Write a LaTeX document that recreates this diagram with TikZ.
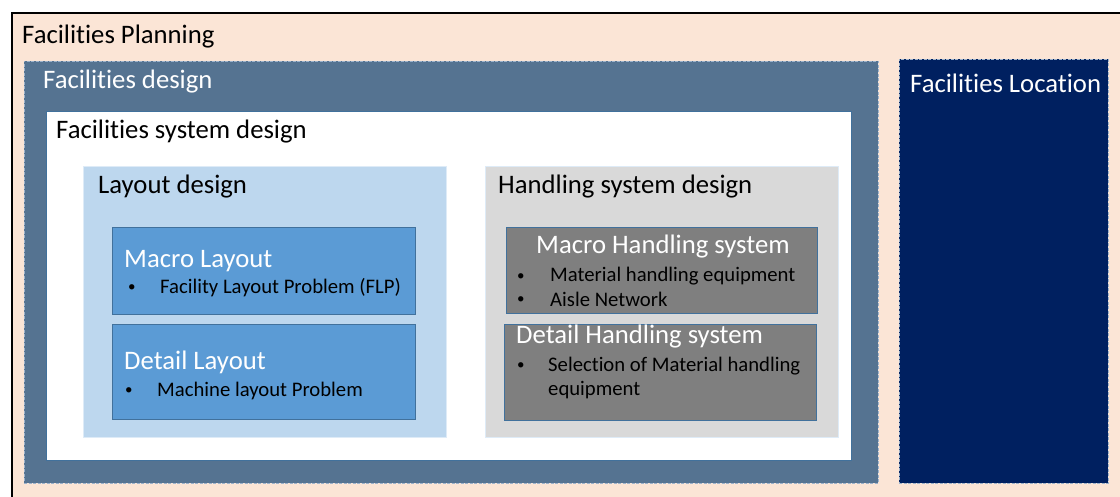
\documentclass[tikz,border=0pt]{standalone}
\usepackage{fontspec}
\setmainfont{Carlito}[Ligatures={NoCommon}]

\definecolor{peach}{HTML}{FBE5D6}
\definecolor{steelblue}{HTML}{557391}
\definecolor{navy}{HTML}{002060}
\definecolor{edgeblue}{HTML}{41719C}
\definecolor{paleblue}{HTML}{BDD7EE}
\definecolor{midblue}{HTML}{5B9BD5}
\definecolor{lightgray}{HTML}{D9D9D9}
\definecolor{darkgray}{HTML}{7F7F7F}
\definecolor{dashedge}{HTML}{9DB3CC}
\definecolor{softedge}{HTML}{DEEBF7}

\tikzset{
  panel/.style={rectangle, inner sep=0pt, outer sep=0pt, anchor=north west},
  dashpanel/.style={panel, draw=dashedge, line width=0.9pt, dash pattern=on 3pt off 1.5pt},
  heading/.style={anchor=base west, inner sep=0pt, font=\fontsize{26.7}{31}\selectfont},
  itemtext/.style={anchor=base west, inner sep=0pt, font=\fontsize{20.7}{24}\selectfont},
  dot/.style={anchor=base west, inner sep=0pt, font=\fontsize{15}{18}\selectfont},
}

\begin{document}
\begin{tikzpicture}[x=1pt, y=-1pt]
\useasboundingbox (0,0) rectangle (1120,497);
\clip (0,0) rectangle (1120,497);
\fill[white] (0,0) rectangle (1120,497);

% outer frame
\node[panel, fill=peach, draw=black, line width=2.5pt,
      minimum width=1140pt, minimum height=520pt] (planning) at (12,13) {};
\node[heading] (planningT) at (22,44) {Facilities Planning};

% facilities design
\node[dashpanel, fill=steelblue, minimum width=854pt, minimum height=422pt] (design) at (24,61) {};
\node[heading, text=white] (designT) at (43,89) {Facilities design};

% facilities location
\node[dashpanel, fill=navy, minimum width=209pt, minimum height=424pt] (location) at (899,59) {};
\node[heading, text=white] (locationT) at (910,93) {Facilities Location};

% facilities system design
\node[panel, fill=white, draw=edgeblue, line width=0.8pt,
      minimum width=805pt, minimum height=349pt] (system) at (46,111) {};
\node[heading] (systemT) at (56,139) {Facilities system design};

% layout design
\node[panel, fill=paleblue, draw=softedge, line width=0.8pt,
      minimum width=363pt, minimum height=271pt] (layout) at (83,166) {};
\node[heading] (layoutT) at (98,194) {Layout design};

\node[panel, fill=midblue, draw=edgeblue, line width=0.8pt,
      minimum width=303pt, minimum height=87pt] (macroL) at (112,227) {};
\node[heading, text=white] (macroLT) at (124,268) {Macro Layout};
\node[dot] (macroLb) at (128,292) {•};
\node[itemtext] (macroLi) at (160,294) {Facility Layout Problem (FLP)};

\node[panel, fill=midblue, draw=edgeblue, line width=0.8pt,
      minimum width=303pt, minimum height=95pt] (detailL) at (112,324) {};
\node[heading, text=white] (detailLT) at (124,369) {Detail Layout};
\node[dot] (detailLb) at (125,394) {•};
\node[itemtext] (detailLi) at (157,396) {Machine layout Problem};

% handling system design
\node[panel, fill=lightgray, draw=softedge, line width=0.8pt,
      minimum width=353pt, minimum height=271pt] (handling) at (485,166) {};
\node[heading] (handlingT) at (498,194) {Handling system design};

\node[panel, fill=darkgray, draw=edgeblue, line width=0.8pt,
      minimum width=311pt, minimum height=86pt] (macroH) at (506,227) {};
\node[heading, text=white] (macroHT) at (536,254) {Macro Handling system};
\node[dot] (macroHb1) at (517,280) {•};
\node[itemtext] (macroHi1) at (550,282) {Material handling equipment};
\node[dot] (macroHb2) at (517,304) {•};
\node[itemtext] (macroHi2) at (550,306) {Aisle Network};

\node[panel, fill=darkgray, draw=edgeblue, line width=0.8pt,
      minimum width=312pt, minimum height=96pt] (detailH) at (504,324) {};
\node[heading, text=white] (detailHT) at (516,344) {Detail Handling system};
\node[dot] (detailHb) at (517,369) {•};
\node[itemtext] (detailHi1) at (548,371) {Selection of Material handling};
\node[itemtext] (detailHi2) at (548,395) {equipment};
\end{tikzpicture}
\end{document}
